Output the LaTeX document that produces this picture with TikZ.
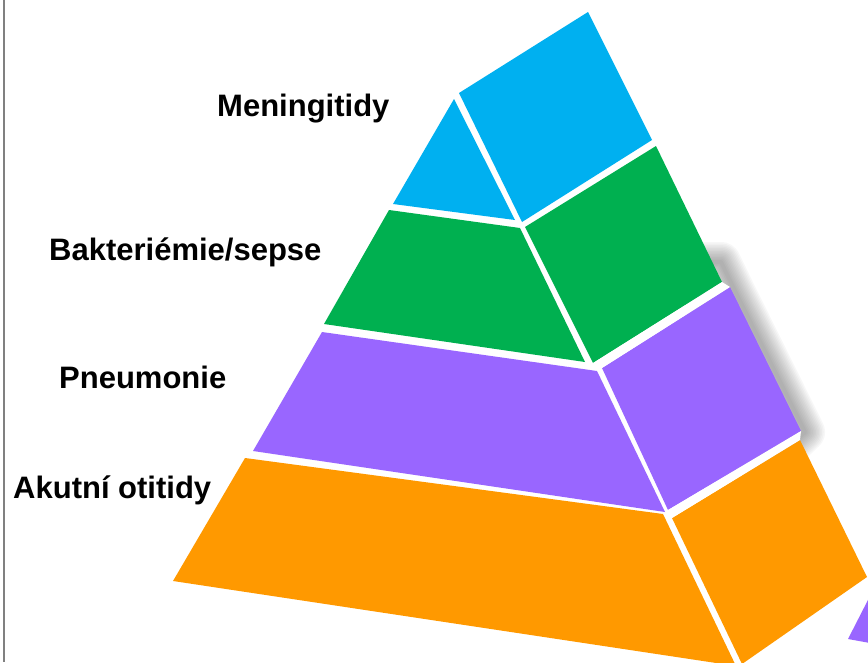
\documentclass[tikz,border=0pt]{standalone}
\usepackage{fontspec}
\setmainfont{Liberation Sans}
\definecolor{cblue}{HTML}{00B0F0}
\definecolor{cgreen}{HTML}{00B050}
\definecolor{cpurple}{HTML}{9966FF}
\definecolor{corange}{HTML}{FF9900}
\tikzset{
  lbl/.style={anchor=base west, inner sep=0pt, font=\fontsize{31}{31}\selectfont\bfseries, text=black},
  face/.style={draw=none}
}
\begin{document}
\begin{tikzpicture}[x=1pt, y=-1pt]
\useasboundingbox (0,0) rectangle (868,662);
\clip (0,0) rectangle (868,662);
\fill[white] (0,0) rectangle (868,662);
\draw[gray, line width=1.3pt] (4,0) -- (4,662);
% soft shadow behind the side faces
\foreach \w in {40,37,34,31,28,25,22,19,16,13,10,7,4}{
  \draw[black!70, opacity=0.04, line width=\w pt, line join=round]
    (700,262) -- (721,262) -- (735,291) -- (805,432) -- (790,446) -- (700,470) -- cycle;
}
% blue level
\fill[face, cblue] (454,99) -- (393,204) -- (515,220) -- cycle;
\fill[face, cblue] (459,93) -- (588,12) -- (652,140) -- (522,222) -- cycle;
% green level
\fill[face, cgreen] (389,210) -- (520,228) -- (585,362) -- (324,324) -- cycle;
\fill[face, cgreen] (525,227) -- (656,146) -- (722,282) -- (593,363) -- cycle;
% purple level
\fill[face, cpurple] (322,332) -- (597,371) -- (665,512) -- (253,451) -- cycle;
\fill[face, cpurple] (602,368) -- (730,287) -- (801,431) -- (668,510) -- cycle;
% orange level
\fill[face, corange] (245,458) -- (663,514) -- (736,666) -- (173,581) -- cycle;
\fill[face, corange] (672,518) -- (800,440) -- (867,577) -- (742,664) -- cycle;
% white separators over the shadow in the gaps
\fill[white] (722,282) -- (730,287) -- (602,368) -- (593,363) -- cycle;
\fill[white] (801,431) -- (800,440) -- (672,518) -- (668,510) -- cycle;
% purple fragment bottom right
\fill[face, cpurple] (848,639) -- (870,596) -- (870,643) -- cycle;
% labels
\node[lbl] (men) at (217,116) {Meningitidy};
\node[lbl] (bak) at (49,260) {Bakteriémie/sepse};
\node[lbl] (pne) at (59,388) {Pneumonie};
\node[lbl] (aku) at (13,498) {Akutní otitidy};
\end{tikzpicture}
\end{document}
